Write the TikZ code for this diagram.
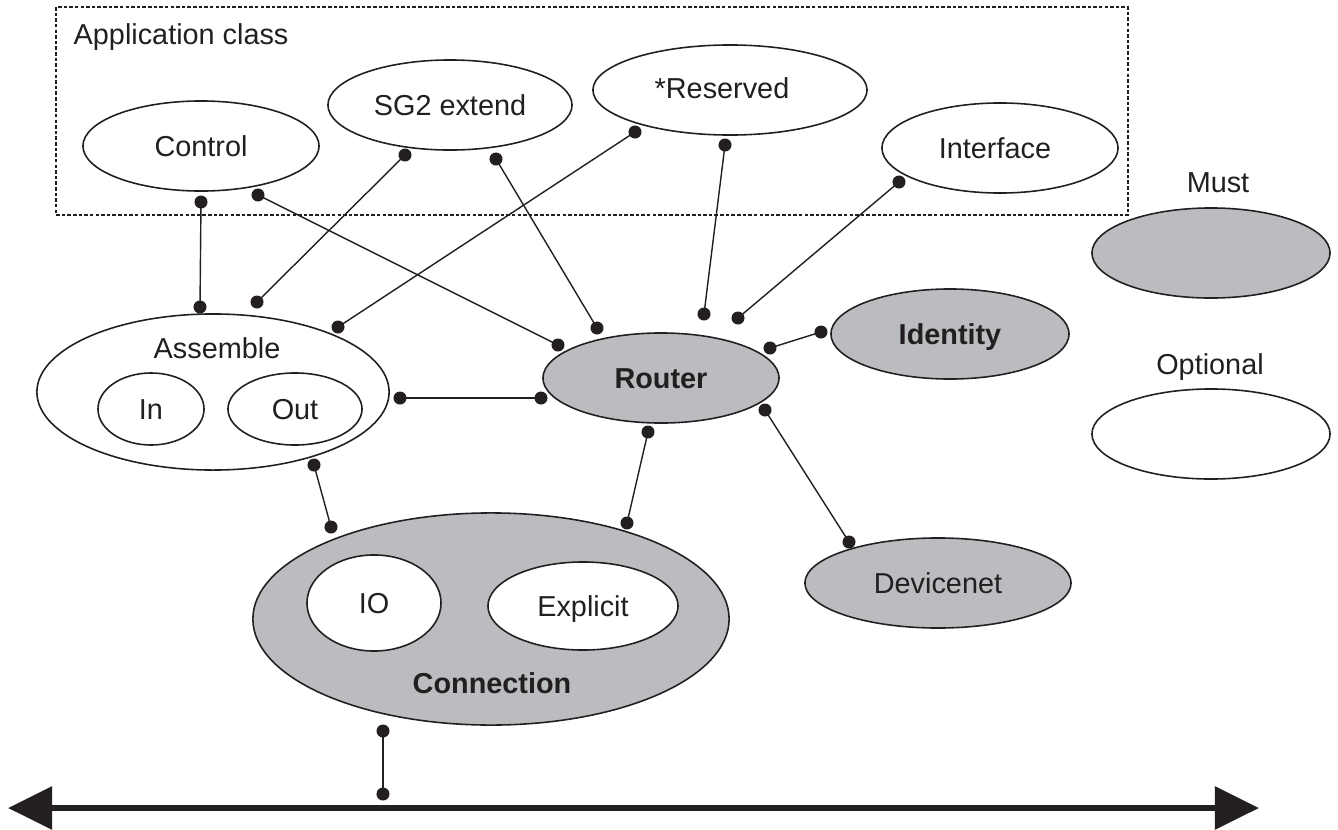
\documentclass[tikz,border=0pt]{standalone}
\usepackage{fontspec}
\setmainfont{Liberation Sans}
\usetikzlibrary{arrows.meta,shapes.geometric}
\definecolor{mustgray}{RGB}{187,188,191}
\definecolor{ink}{RGB}{35,31,32}
\tikzset{
  txt/.style={font=\fontsize{8.2}{9.8}\selectfont, text=ink, inner sep=0pt, text height=5.9pt, text depth=0pt},
  ell/.style={ellipse, draw=ink, line width=0.45pt, fill=white, inner sep=0pt, txt},
  must/.style={ell, fill=mustgray},
  conn/.style={draw=ink, line width=0.4pt},
  dot/.style={fill=ink},
  bus/.style={draw=ink, fill=ink, line width=1.7pt, {Triangle[length=0.44cm,width=0.42cm]}-{Triangle[length=0.44cm,width=0.42cm]}},
  appbox/.style={draw=ink, line width=0.45pt, dash pattern=on 1pt off 0.6pt}
}
\begin{document}
\begin{tikzpicture}[x=0.01cm,y=-0.01cm]
\useasboundingbox (0,0) rectangle (1338,830);
% application class box
\draw[appbox] (56,7) rectangle (1128,215);
\node[txt, anchor=west] (applabel) at (73,34) {Application class};
% ellipses
\node[ell, minimum width=2.36cm, minimum height=0.90cm] (control) at (201,146) {Control};
\node[ell, minimum width=2.44cm, minimum height=0.90cm] (sg2) at (450,105) {SG2 extend};
\node[ell, minimum width=2.74cm, minimum height=0.90cm] (reserved) at (730,90) {};
\node[txt] (reservedlabel) at (722,88) {*Reserved};
\node[ell, minimum width=2.36cm, minimum height=0.90cm] (interface) at (1000,148) {};
\node[txt] (interfacelabel) at (995,148) {Interface};
\node[txt] (mustlabel) at (1218,182) {Must};
\node[must, minimum width=2.38cm, minimum height=0.90cm] (mustell) at (1211,253) {};
\node[txt] (optlabel) at (1210,364) {Optional};
\node[ell, minimum width=2.38cm, minimum height=0.90cm] (optell) at (1211,434) {};
\node[must, minimum width=2.38cm, minimum height=0.90cm, font=\fontsize{8.2}{9.8}\selectfont\bfseries] (identity) at (950,334) {Identity};
\node[must, minimum width=2.36cm, minimum height=0.90cm, font=\fontsize{8.2}{9.8}\selectfont\bfseries] (router) at (661,378) {Router};
\node[must, minimum width=2.66cm, minimum height=0.90cm] (devicenet) at (938,583) {Devicenet};
% assemble
\node[ell, minimum width=3.52cm, minimum height=1.56cm] (assemble) at (213,392) {};
\node[txt] (assemblelabel) at (217,348) {Assemble};
\node[ell, minimum width=1.06cm, minimum height=0.72cm] (in) at (151,409) {In};
\node[ell, minimum width=1.34cm, minimum height=0.72cm] (out) at (295,409) {Out};
% connection
\node[must, minimum width=4.76cm, minimum height=2.12cm] (connection) at (491,619) {};
\node[txt, font=\fontsize{8.2}{9.8}\selectfont\bfseries] (connlabel) at (492,683) {Connection};
\node[ell, minimum width=1.34cm, minimum height=0.96cm] (io) at (374,603) {IO};
\node[ell, minimum width=1.90cm, minimum height=0.88cm] (explicit) at (583,606) {Explicit};
% connector end points
\coordinate (ca1) at (201,202); \coordinate (ac1) at (200,307);
\coordinate (cr1) at (258,195); \coordinate (rc1) at (558,345);
\coordinate (sa1) at (405,155); \coordinate (as1) at (257,302);
\coordinate (sr1) at (496,159); \coordinate (rs1) at (597,328);
\coordinate (ea1) at (635,132); \coordinate (ae1) at (338,327);
\coordinate (er1) at (725,145); \coordinate (re1) at (704,314);
\coordinate (ir1) at (899,182); \coordinate (ri1) at (738,318);
\coordinate (dr1) at (821,332); \coordinate (rd1) at (770,348);
\coordinate (ar1) at (400,398); \coordinate (ra1) at (541,398);
\coordinate (an1) at (314,465); \coordinate (na1) at (331,527);
\coordinate (rn1) at (648,432); \coordinate (nr1) at (627,523);
\coordinate (rv1) at (765,410); \coordinate (vr1) at (849,542);
\coordinate (nb1) at (383,731); \coordinate (bn1) at (383,794);
\coordinate (busL) at (8,808); \coordinate (busR) at (1259,808);
\foreach \a/\b in {ca1/ac1, cr1/rc1, sa1/as1, sr1/rs1, ea1/ae1, er1/re1, ir1/ri1, dr1/rd1, ar1/ra1, an1/na1, rn1/nr1, rv1/vr1, nb1/bn1}{
  \draw[conn] (\a) -- (\b);
  \fill[dot] (\a) circle[radius=0.065cm];
  \fill[dot] (\b) circle[radius=0.065cm];
}
% bus
\draw[bus] (busL) -- (busR);
\end{tikzpicture}
\end{document}
